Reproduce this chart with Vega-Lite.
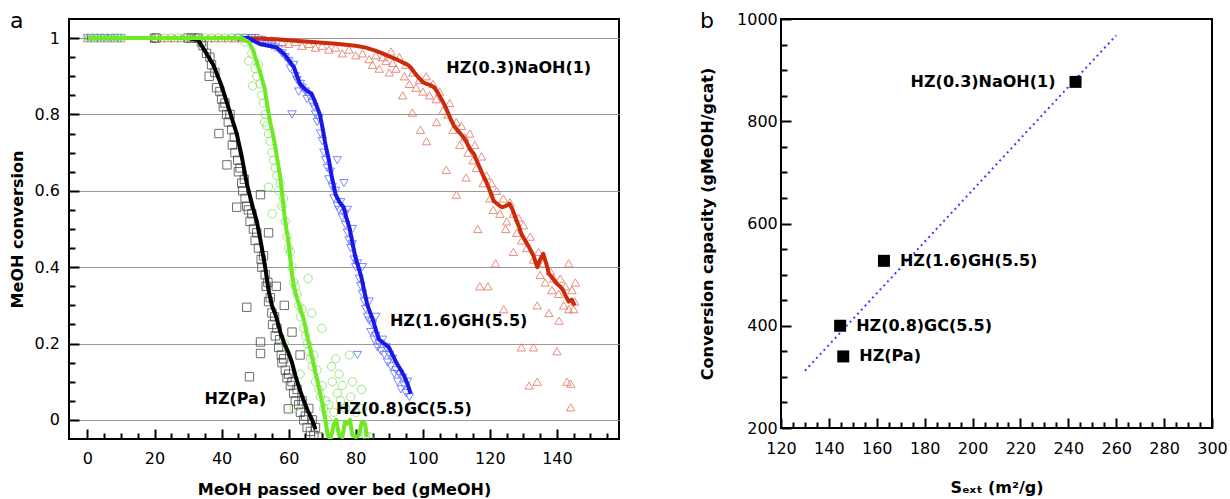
{
  "$schema": "https://vega.github.io/schema/vega-lite/v6.json",
  "padding": {"left": 8, "top": 9, "right": 5, "bottom": 0},
  "bounds": "flush",
  "spacing": 162,
  "config": {
    "font": "DejaVu Sans",
    "view": {"stroke": "#000", "strokeWidth": 2},
    "axis": {"domain": false, "labelFont": "DejaVu Sans", "labelFontSize": 16, "labelColor": "#000", "titleFont": "DejaVu Sans", "titleFontSize": 16, "titleFontWeight": "bold", "titleColor": "#000", "tickColor": "#000", "tickWidth": 2, "labelOverlap": false, "labelBound": false, "labelFlush": false},
    "title": {"anchor": "start", "frame": "bounds", "fontSize": 22, "fontWeight": "normal", "font": "DejaVu Sans", "baseline": "alphabetic", "color": "#000"}
  },
  "datasets": {
    "curves": [
      {"series": "NaOH", "x": 0, "y": 1}, {"series": "NaOH", "x": 10, "y": 1}, {"series": "NaOH", "x": 20, "y": 1}, {"series": "NaOH", "x": 30, "y": 1}, {"series": "NaOH", "x": 40, "y": 1}, {"series": "NaOH", "x": 50, "y": 0.999}, {"series": "NaOH", "x": 56.3, "y": 0.997}, {"series": "NaOH", "x": 62, "y": 0.993}, {"series": "NaOH", "x": 68.1, "y": 0.989}, {"series": "NaOH", "x": 74, "y": 0.985}, {"series": "NaOH", "x": 79.9, "y": 0.98}, {"series": "NaOH", "x": 83, "y": 0.975}, {"series": "NaOH", "x": 85.8, "y": 0.967}, {"series": "NaOH", "x": 88, "y": 0.96}, {"series": "NaOH", "x": 90.5, "y": 0.95}, {"series": "NaOH", "x": 92, "y": 0.945}, {"series": "NaOH", "x": 94, "y": 0.936}, {"series": "NaOH", "x": 95.5, "y": 0.93}, {"series": "NaOH", "x": 96.4, "y": 0.923}, {"series": "NaOH", "x": 97.5, "y": 0.91}, {"series": "NaOH", "x": 98.7, "y": 0.897}, {"series": "NaOH", "x": 100, "y": 0.885}, {"series": "NaOH", "x": 101.1, "y": 0.88}, {"series": "NaOH", "x": 102.3, "y": 0.877}, {"series": "NaOH", "x": 103.5, "y": 0.87}, {"series": "NaOH", "x": 104.6, "y": 0.855}, {"series": "NaOH", "x": 105.8, "y": 0.836}, {"series": "NaOH", "x": 107, "y": 0.815}, {"series": "NaOH", "x": 108.2, "y": 0.79}, {"series": "NaOH", "x": 109.3, "y": 0.77}, {"series": "NaOH", "x": 110.5, "y": 0.757}, {"series": "NaOH", "x": 111.7, "y": 0.745}, {"series": "NaOH", "x": 112.9, "y": 0.73}, {"series": "NaOH", "x": 114, "y": 0.71}, {"series": "NaOH", "x": 115.3, "y": 0.696}, {"series": "NaOH", "x": 116, "y": 0.68}, {"series": "NaOH", "x": 117, "y": 0.66}, {"series": "NaOH", "x": 118, "y": 0.64}, {"series": "NaOH", "x": 118.8, "y": 0.626}, {"series": "NaOH", "x": 120, "y": 0.6}, {"series": "NaOH", "x": 121.1, "y": 0.574}, {"series": "NaOH", "x": 122.3, "y": 0.565}, {"series": "NaOH", "x": 123.5, "y": 0.557}, {"series": "NaOH", "x": 124.7, "y": 0.56}, {"series": "NaOH", "x": 125.9, "y": 0.566}, {"series": "NaOH", "x": 126.8, "y": 0.55}, {"series": "NaOH", "x": 127.6, "y": 0.53}, {"series": "NaOH", "x": 128.5, "y": 0.51}, {"series": "NaOH", "x": 129.4, "y": 0.487}, {"series": "NaOH", "x": 130.5, "y": 0.47}, {"series": "NaOH", "x": 131.7, "y": 0.452}, {"series": "NaOH", "x": 133, "y": 0.43}, {"series": "NaOH", "x": 134.1, "y": 0.4}, {"series": "NaOH", "x": 135, "y": 0.42}, {"series": "NaOH", "x": 135.9, "y": 0.435}, {"series": "NaOH", "x": 136.8, "y": 0.41}, {"series": "NaOH", "x": 137.6, "y": 0.383}, {"series": "NaOH", "x": 138.8, "y": 0.37}, {"series": "NaOH", "x": 140, "y": 0.356}, {"series": "NaOH", "x": 140.9, "y": 0.35}, {"series": "NaOH", "x": 141.8, "y": 0.34}, {"series": "NaOH", "x": 142.6, "y": 0.325}, {"series": "NaOH", "x": 143.5, "y": 0.31}, {"series": "NaOH", "x": 144.4, "y": 0.315}, {"series": "NaOH", "x": 145.3, "y": 0.3},
      {"series": "GH", "x": 0, "y": 1}, {"series": "GH", "x": 10, "y": 1}, {"series": "GH", "x": 20, "y": 1}, {"series": "GH", "x": 30, "y": 1}, {"series": "GH", "x": 40, "y": 1}, {"series": "GH", "x": 48, "y": 1}, {"series": "GH", "x": 51.6, "y": 0.984}, {"series": "GH", "x": 54, "y": 0.98}, {"series": "GH", "x": 56.3, "y": 0.976}, {"series": "GH", "x": 58.7, "y": 0.958}, {"series": "GH", "x": 60.2, "y": 0.94}, {"series": "GH", "x": 61.6, "y": 0.923}, {"series": "GH", "x": 62.5, "y": 0.9}, {"series": "GH", "x": 63.4, "y": 0.88}, {"series": "GH", "x": 65, "y": 0.865}, {"series": "GH", "x": 66.9, "y": 0.853}, {"series": "GH", "x": 68, "y": 0.83}, {"series": "GH", "x": 69.3, "y": 0.8}, {"series": "GH", "x": 70.2, "y": 0.76}, {"series": "GH", "x": 71, "y": 0.72}, {"series": "GH", "x": 72, "y": 0.68}, {"series": "GH", "x": 72.8, "y": 0.64}, {"series": "GH", "x": 74, "y": 0.59}, {"series": "GH", "x": 75.2, "y": 0.57}, {"series": "GH", "x": 76.4, "y": 0.557}, {"series": "GH", "x": 77.2, "y": 0.53}, {"series": "GH", "x": 78.1, "y": 0.504}, {"series": "GH", "x": 79, "y": 0.465}, {"series": "GH", "x": 79.9, "y": 0.426}, {"series": "GH", "x": 80.8, "y": 0.4}, {"series": "GH", "x": 81.7, "y": 0.373}, {"series": "GH", "x": 82.6, "y": 0.335}, {"series": "GH", "x": 83.5, "y": 0.3}, {"series": "GH", "x": 85.2, "y": 0.26}, {"series": "GH", "x": 86.2, "y": 0.23}, {"series": "GH", "x": 87, "y": 0.21}, {"series": "GH", "x": 88.5, "y": 0.2}, {"series": "GH", "x": 89.9, "y": 0.19}, {"series": "GH", "x": 91, "y": 0.17}, {"series": "GH", "x": 92.3, "y": 0.147}, {"series": "GH", "x": 93.5, "y": 0.13}, {"series": "GH", "x": 94.7, "y": 0.11}, {"series": "GH", "x": 95.6, "y": 0.09}, {"series": "GH", "x": 96.4, "y": 0.068},
      {"series": "Pa", "x": 0, "y": 1}, {"series": "Pa", "x": 10, "y": 1}, {"series": "Pa", "x": 20, "y": 1}, {"series": "Pa", "x": 30, "y": 1}, {"series": "Pa", "x": 33, "y": 0.995}, {"series": "Pa", "x": 35, "y": 0.967}, {"series": "Pa", "x": 37.5, "y": 0.93}, {"series": "Pa", "x": 39.8, "y": 0.88}, {"series": "Pa", "x": 42, "y": 0.82}, {"series": "Pa", "x": 44.5, "y": 0.75}, {"series": "Pa", "x": 46, "y": 0.69}, {"series": "Pa", "x": 47.5, "y": 0.62}, {"series": "Pa", "x": 49.3, "y": 0.557}, {"series": "Pa", "x": 50.5, "y": 0.52}, {"series": "Pa", "x": 51.6, "y": 0.47}, {"series": "Pa", "x": 53, "y": 0.4}, {"series": "Pa", "x": 54, "y": 0.34}, {"series": "Pa", "x": 55, "y": 0.3}, {"series": "Pa", "x": 56.3, "y": 0.27}, {"series": "Pa", "x": 57.5, "y": 0.23}, {"series": "Pa", "x": 58.7, "y": 0.2}, {"series": "Pa", "x": 60, "y": 0.175}, {"series": "Pa", "x": 61, "y": 0.15}, {"series": "Pa", "x": 62.2, "y": 0.11}, {"series": "Pa", "x": 63.4, "y": 0.077}, {"series": "Pa", "x": 64.5, "y": 0.05}, {"series": "Pa", "x": 65.7, "y": 0.024}, {"series": "Pa", "x": 67, "y": 0}, {"series": "Pa", "x": 68, "y": -0.025},
      {"series": "GC", "x": 0, "y": 1}, {"series": "GC", "x": 10, "y": 1}, {"series": "GC", "x": 20, "y": 1}, {"series": "GC", "x": 30, "y": 1}, {"series": "GC", "x": 40, "y": 1}, {"series": "GC", "x": 46, "y": 1}, {"series": "GC", "x": 48.1, "y": 0.99}, {"series": "GC", "x": 49.3, "y": 0.97}, {"series": "GC", "x": 50.4, "y": 0.94}, {"series": "GC", "x": 51.5, "y": 0.91}, {"series": "GC", "x": 52.8, "y": 0.87}, {"series": "GC", "x": 53.7, "y": 0.82}, {"series": "GC", "x": 54.6, "y": 0.775}, {"series": "GC", "x": 55.5, "y": 0.74}, {"series": "GC", "x": 56.3, "y": 0.7}, {"series": "GC", "x": 57.5, "y": 0.635}, {"series": "GC", "x": 58.2, "y": 0.58}, {"series": "GC", "x": 58.7, "y": 0.54}, {"series": "GC", "x": 59.3, "y": 0.5}, {"series": "GC", "x": 59.9, "y": 0.47}, {"series": "GC", "x": 60.5, "y": 0.42}, {"series": "GC", "x": 61, "y": 0.38}, {"series": "GC", "x": 61.8, "y": 0.34}, {"series": "GC", "x": 62.8, "y": 0.31}, {"series": "GC", "x": 63.7, "y": 0.285}, {"series": "GC", "x": 64.6, "y": 0.26}, {"series": "GC", "x": 65.5, "y": 0.22}, {"series": "GC", "x": 66.3, "y": 0.19}, {"series": "GC", "x": 67.2, "y": 0.155}, {"series": "GC", "x": 68.1, "y": 0.12}, {"series": "GC", "x": 69, "y": 0.085}, {"series": "GC", "x": 69.9, "y": 0.05}, {"series": "GC", "x": 70.5, "y": 0.02}, {"series": "GC", "x": 71, "y": 0}, {"series": "GC", "x": 71.6, "y": -0.04}, {"series": "GC", "x": 72.5, "y": -0.05}, {"series": "GC", "x": 73.5, "y": -0.01}, {"series": "GC", "x": 74.2, "y": 0}, {"series": "GC", "x": 75, "y": -0.04}, {"series": "GC", "x": 76, "y": -0.045}, {"series": "GC", "x": 76.8, "y": -0.005}, {"series": "GC", "x": 77.5, "y": -0.01}, {"series": "GC", "x": 78.3, "y": 0}, {"series": "GC", "x": 79, "y": -0.04}, {"series": "GC", "x": 80, "y": -0.045}, {"series": "GC", "x": 81, "y": -0.04}, {"series": "GC", "x": 81.8, "y": -0.005}, {"series": "GC", "x": 82.8, "y": -0.01}, {"series": "GC", "x": 83.3, "y": -0.045}
    ],
    "points": [
      {"series": "NaOH", "x": 0, "y": 1}, {"series": "NaOH", "x": 2, "y": 1}, {"series": "NaOH", "x": 4, "y": 1}, {"series": "NaOH", "x": 6, "y": 1}, {"series": "NaOH", "x": 8, "y": 1}, {"series": "NaOH", "x": 10, "y": 1}, {"series": "NaOH", "x": 20, "y": 1}, {"series": "NaOH", "x": 22, "y": 1}, {"series": "NaOH", "x": 24, "y": 1}, {"series": "NaOH", "x": 26, "y": 1}, {"series": "NaOH", "x": 28, "y": 1}, {"series": "NaOH", "x": 30, "y": 1}, {"series": "NaOH", "x": 32, "y": 1}, {"series": "NaOH", "x": 34, "y": 1}, {"series": "NaOH", "x": 36, "y": 1}, {"series": "NaOH", "x": 38, "y": 1}, {"series": "NaOH", "x": 40, "y": 1}, {"series": "NaOH", "x": 42, "y": 1}, {"series": "NaOH", "x": 44, "y": 1}, {"series": "NaOH", "x": 46, "y": 1}, {"series": "NaOH", "x": 48, "y": 1}, {"series": "NaOH", "x": 50, "y": 1}, {"series": "NaOH", "x": 52, "y": 0.998},
      {"series": "NaOH", "x": 55, "y": 0.995}, {"series": "NaOH", "x": 58, "y": 0.99}, {"series": "NaOH", "x": 60, "y": 0.985}, {"series": "NaOH", "x": 62, "y": 0.99}, {"series": "NaOH", "x": 64, "y": 0.98}, {"series": "NaOH", "x": 66, "y": 0.985}, {"series": "NaOH", "x": 68, "y": 0.975}, {"series": "NaOH", "x": 70, "y": 0.98}, {"series": "NaOH", "x": 72, "y": 0.97}, {"series": "NaOH", "x": 74, "y": 0.975}, {"series": "NaOH", "x": 76, "y": 0.96}, {"series": "NaOH", "x": 78, "y": 0.97}, {"series": "NaOH", "x": 80, "y": 0.955}, {"series": "NaOH", "x": 82, "y": 0.96}, {"series": "NaOH", "x": 84, "y": 0.945}, {"series": "NaOH", "x": 85, "y": 0.93}, {"series": "NaOH", "x": 86, "y": 0.955}, {"series": "NaOH", "x": 87, "y": 0.92}, {"series": "NaOH", "x": 88, "y": 0.95}, {"series": "NaOH", "x": 89, "y": 0.94}, {"series": "NaOH", "x": 90, "y": 0.91}, {"series": "NaOH", "x": 90.5, "y": 0.965}, {"series": "NaOH", "x": 91, "y": 0.935}, {"series": "NaOH", "x": 92, "y": 0.92}, {"series": "NaOH", "x": 93, "y": 0.95}, {"series": "NaOH", "x": 94, "y": 0.85}, {"series": "NaOH", "x": 94.5, "y": 0.9}, {"series": "NaOH", "x": 95, "y": 0.93}, {"series": "NaOH", "x": 96, "y": 0.88}, {"series": "NaOH", "x": 96.9, "y": 0.805}, {"series": "NaOH", "x": 97, "y": 0.91}, {"series": "NaOH", "x": 98, "y": 0.87}, {"series": "NaOH", "x": 99, "y": 0.89}, {"series": "NaOH", "x": 99.3, "y": 0.76}, {"series": "NaOH", "x": 100, "y": 0.86}, {"series": "NaOH", "x": 101.1, "y": 0.73}, {"series": "NaOH", "x": 101, "y": 0.9}, {"series": "NaOH", "x": 102, "y": 0.85}, {"series": "NaOH", "x": 103, "y": 0.88}, {"series": "NaOH", "x": 104.1, "y": 0.78}, {"series": "NaOH", "x": 104, "y": 0.84}, {"series": "NaOH", "x": 105, "y": 0.86}, {"series": "NaOH", "x": 106, "y": 0.81}, {"series": "NaOH", "x": 107, "y": 0.655}, {"series": "NaOH", "x": 107.5, "y": 0.8}, {"series": "NaOH", "x": 108, "y": 0.83}, {"series": "NaOH", "x": 109, "y": 0.76}, {"series": "NaOH", "x": 110, "y": 0.59}, {"series": "NaOH", "x": 110, "y": 0.78}, {"series": "NaOH", "x": 111, "y": 0.72}, {"series": "NaOH", "x": 111.5, "y": 0.77}, {"series": "NaOH", "x": 112.9, "y": 0.635}, {"series": "NaOH", "x": 112.5, "y": 0.74}, {"series": "NaOH", "x": 113.5, "y": 0.7}, {"series": "NaOH", "x": 114, "y": 0.75}, {"series": "NaOH", "x": 115, "y": 0.68}, {"series": "NaOH", "x": 115.5, "y": 0.72}, {"series": "NaOH", "x": 116.4, "y": 0.5}, {"series": "NaOH", "x": 116, "y": 0.66}, {"series": "NaOH", "x": 117, "y": 0.35}, {"series": "NaOH", "x": 117.5, "y": 0.69}, {"series": "NaOH", "x": 118, "y": 0.62}, {"series": "NaOH", "x": 119, "y": 0.64}, {"series": "NaOH", "x": 119.4, "y": 0.35}, {"series": "NaOH", "x": 120, "y": 0.58}, {"series": "NaOH", "x": 120.5, "y": 0.62}, {"series": "NaOH", "x": 121.7, "y": 0.41}, {"series": "NaOH", "x": 121, "y": 0.55}, {"series": "NaOH", "x": 122, "y": 0.6}, {"series": "NaOH", "x": 123, "y": 0.54}, {"series": "NaOH", "x": 124.1, "y": 0.29}, {"series": "NaOH", "x": 124.7, "y": 0.5}, {"series": "NaOH", "x": 124, "y": 0.58}, {"series": "NaOH", "x": 125, "y": 0.52}, {"series": "NaOH", "x": 126, "y": 0.57}, {"series": "NaOH", "x": 127, "y": 0.44}, {"series": "NaOH", "x": 127, "y": 0.54}, {"series": "NaOH", "x": 128, "y": 0.49}, {"series": "NaOH", "x": 128.5, "y": 0.53}, {"series": "NaOH", "x": 129.4, "y": 0.19}, {"series": "NaOH", "x": 129.5, "y": 0.47}, {"series": "NaOH", "x": 130, "y": 0.51}, {"series": "NaOH", "x": 131, "y": 0.45}, {"series": "NaOH", "x": 131.7, "y": 0.09}, {"series": "NaOH", "x": 132, "y": 0.48}, {"series": "NaOH", "x": 133, "y": 0.19}, {"series": "NaOH", "x": 133, "y": 0.42}, {"series": "NaOH", "x": 134.1, "y": 0.3}, {"series": "NaOH", "x": 134.1, "y": 0.1}, {"series": "NaOH", "x": 134.5, "y": 0.44}, {"series": "NaOH", "x": 135, "y": 0.38}, {"series": "NaOH", "x": 136, "y": 0.41}, {"series": "NaOH", "x": 136.5, "y": 0.36}, {"series": "NaOH", "x": 137.6, "y": 0.28}, {"series": "NaOH", "x": 138, "y": 0.39}, {"series": "NaOH", "x": 138.5, "y": 0.34}, {"series": "NaOH", "x": 139, "y": 0.37}, {"series": "NaOH", "x": 140, "y": 0.18}, {"series": "NaOH", "x": 140.6, "y": 0.26}, {"series": "NaOH", "x": 140.5, "y": 0.33}, {"series": "NaOH", "x": 141, "y": 0.37}, {"series": "NaOH", "x": 142, "y": 0.3}, {"series": "NaOH", "x": 142.5, "y": 0.35}, {"series": "NaOH", "x": 143, "y": 0.1}, {"series": "NaOH", "x": 143.5, "y": 0.41}, {"series": "NaOH", "x": 143.5, "y": 0.29}, {"series": "NaOH", "x": 144.1, "y": 0.095}, {"series": "NaOH", "x": 144.1, "y": 0.033}, {"series": "NaOH", "x": 144.5, "y": 0.34}, {"series": "NaOH", "x": 145, "y": 0.29}, {"series": "NaOH", "x": 145.3, "y": 0.31}, {"series": "NaOH", "x": 145.5, "y": 0.36},
      {"series": "GH", "x": 0, "y": 1}, {"series": "GH", "x": 1, "y": 1}, {"series": "GH", "x": 2, "y": 1}, {"series": "GH", "x": 3, "y": 1}, {"series": "GH", "x": 4, "y": 1}, {"series": "GH", "x": 5, "y": 1}, {"series": "GH", "x": 6, "y": 1}, {"series": "GH", "x": 7, "y": 1}, {"series": "GH", "x": 8, "y": 1}, {"series": "GH", "x": 9, "y": 1}, {"series": "GH", "x": 10, "y": 1}, {"series": "GH", "x": 45, "y": 1}, {"series": "GH", "x": 47, "y": 1}, {"series": "GH", "x": 49, "y": 1}, {"series": "GH", "x": 50, "y": 1}, {"series": "GH", "x": 52, "y": 0.995},
      {"series": "GH", "x": 53, "y": 0.99}, {"series": "GH", "x": 54, "y": 0.985}, {"series": "GH", "x": 55, "y": 0.98}, {"series": "GH", "x": 56, "y": 0.975}, {"series": "GH", "x": 57, "y": 0.97}, {"series": "GH", "x": 58, "y": 0.96}, {"series": "GH", "x": 59, "y": 0.95}, {"series": "GH", "x": 60, "y": 0.94}, {"series": "GH", "x": 60.5, "y": 0.92}, {"series": "GH", "x": 61, "y": 0.8}, {"series": "GH", "x": 61.5, "y": 0.93}, {"series": "GH", "x": 62, "y": 0.9}, {"series": "GH", "x": 62.5, "y": 0.89}, {"series": "GH", "x": 63, "y": 0.86}, {"series": "GH", "x": 63.5, "y": 0.88}, {"series": "GH", "x": 64, "y": 0.87}, {"series": "GH", "x": 65, "y": 0.86}, {"series": "GH", "x": 65.5, "y": 0.84}, {"series": "GH", "x": 66, "y": 0.85}, {"series": "GH", "x": 67, "y": 0.83}, {"series": "GH", "x": 67.5, "y": 0.82}, {"series": "GH", "x": 68, "y": 0.8}, {"series": "GH", "x": 68.5, "y": 0.78}, {"series": "GH", "x": 69, "y": 0.79}, {"series": "GH", "x": 69.5, "y": 0.75}, {"series": "GH", "x": 70, "y": 0.73}, {"series": "GH", "x": 70.5, "y": 0.7}, {"series": "GH", "x": 71, "y": 0.68}, {"series": "GH", "x": 71.5, "y": 0.66}, {"series": "GH", "x": 72, "y": 0.63}, {"series": "GH", "x": 72.5, "y": 0.65}, {"series": "GH", "x": 73, "y": 0.61}, {"series": "GH", "x": 73.5, "y": 0.58}, {"series": "GH", "x": 74, "y": 0.6}, {"series": "GH", "x": 74.5, "y": 0.68}, {"series": "GH", "x": 74.5, "y": 0.56}, {"series": "GH", "x": 75, "y": 0.55}, {"series": "GH", "x": 75.5, "y": 0.57}, {"series": "GH", "x": 76, "y": 0.53}, {"series": "GH", "x": 76.5, "y": 0.62}, {"series": "GH", "x": 76.5, "y": 0.54}, {"series": "GH", "x": 77, "y": 0.51}, {"series": "GH", "x": 77.5, "y": 0.55}, {"series": "GH", "x": 77.5, "y": 0.49}, {"series": "GH", "x": 78, "y": 0.47}, {"series": "GH", "x": 78.5, "y": 0.45}, {"series": "GH", "x": 79, "y": 0.5}, {"series": "GH", "x": 79, "y": 0.46}, {"series": "GH", "x": 79.5, "y": 0.42}, {"series": "GH", "x": 80, "y": 0.4}, {"series": "GH", "x": 80.5, "y": 0.17}, {"series": "GH", "x": 80.5, "y": 0.41}, {"series": "GH", "x": 81, "y": 0.37}, {"series": "GH", "x": 81.5, "y": 0.35}, {"series": "GH", "x": 82, "y": 0.4}, {"series": "GH", "x": 82, "y": 0.33}, {"series": "GH", "x": 82.5, "y": 0.31}, {"series": "GH", "x": 83, "y": 0.29}, {"series": "GH", "x": 83.5, "y": 0.27}, {"series": "GH", "x": 84, "y": 0.31}, {"series": "GH", "x": 84, "y": 0.26}, {"series": "GH", "x": 84.5, "y": 0.23}, {"series": "GH", "x": 85, "y": 0.25}, {"series": "GH", "x": 85.5, "y": 0.21}, {"series": "GH", "x": 86, "y": 0.27}, {"series": "GH", "x": 86, "y": 0.22}, {"series": "GH", "x": 86.5, "y": 0.19}, {"series": "GH", "x": 87, "y": 0.2}, {"series": "GH", "x": 87.5, "y": 0.18}, {"series": "GH", "x": 88, "y": 0.21}, {"series": "GH", "x": 88.5, "y": 0.17}, {"series": "GH", "x": 89, "y": 0.19}, {"series": "GH", "x": 89.5, "y": 0.15}, {"series": "GH", "x": 90, "y": 0.17}, {"series": "GH", "x": 90.5, "y": 0.14}, {"series": "GH", "x": 91, "y": 0.16}, {"series": "GH", "x": 91.5, "y": 0.12}, {"series": "GH", "x": 92, "y": 0.13}, {"series": "GH", "x": 92.5, "y": 0.1}, {"series": "GH", "x": 93, "y": 0.12}, {"series": "GH", "x": 93.5, "y": 0.08}, {"series": "GH", "x": 94, "y": 0.11}, {"series": "GH", "x": 94.5, "y": 0.09}, {"series": "GH", "x": 95, "y": 0.07}, {"series": "GH", "x": 95.5, "y": 0.1}, {"series": "GH", "x": 96, "y": 0.06},
      {"series": "Pa", "x": 20, "y": 1}, {"series": "Pa", "x": 20.5, "y": 1}, {"series": "Pa", "x": 30, "y": 1}, {"series": "Pa", "x": 31, "y": 1}, {"series": "Pa", "x": 32, "y": 1}, {"series": "Pa", "x": 33, "y": 1}, {"series": "Pa", "x": 34, "y": 0.99}, {"series": "Pa", "x": 34.5, "y": 0.98}, {"series": "Pa", "x": 35.5, "y": 0.96}, {"series": "Pa", "x": 36.3, "y": 0.9}, {"series": "Pa", "x": 36.5, "y": 0.95}, {"series": "Pa", "x": 37, "y": 0.93}, {"series": "Pa", "x": 38, "y": 0.91}, {"series": "Pa", "x": 38.5, "y": 0.87}, {"series": "Pa", "x": 39.2, "y": 0.75}, {"series": "Pa", "x": 39.5, "y": 0.86}, {"series": "Pa", "x": 40, "y": 0.84}, {"series": "Pa", "x": 40.5, "y": 0.82}, {"series": "Pa", "x": 41, "y": 0.83}, {"series": "Pa", "x": 41.6, "y": 0.668}, {"series": "Pa", "x": 41.5, "y": 0.8}, {"series": "Pa", "x": 42, "y": 0.78}, {"series": "Pa", "x": 42.5, "y": 0.8}, {"series": "Pa", "x": 43, "y": 0.76}, {"series": "Pa", "x": 43.2, "y": 0.72}, {"series": "Pa", "x": 43.8, "y": 0.74}, {"series": "Pa", "x": 44, "y": 0.7}, {"series": "Pa", "x": 44.5, "y": 0.557}, {"series": "Pa", "x": 44.8, "y": 0.68}, {"series": "Pa", "x": 45, "y": 0.65}, {"series": "Pa", "x": 45.5, "y": 0.66}, {"series": "Pa", "x": 46, "y": 0.62}, {"series": "Pa", "x": 46.3, "y": 0.6}, {"series": "Pa", "x": 46.8, "y": 0.63}, {"series": "Pa", "x": 47, "y": 0.58}, {"series": "Pa", "x": 47.5, "y": 0.295}, {"series": "Pa", "x": 47.5, "y": 0.56}, {"series": "Pa", "x": 48, "y": 0.55}, {"series": "Pa", "x": 48.3, "y": 0.113}, {"series": "Pa", "x": 48.5, "y": 0.52}, {"series": "Pa", "x": 49, "y": 0.54}, {"series": "Pa", "x": 49.5, "y": 0.5}, {"series": "Pa", "x": 50, "y": 0.47}, {"series": "Pa", "x": 50.5, "y": 0.49}, {"series": "Pa", "x": 51, "y": 0.45}, {"series": "Pa", "x": 51.6, "y": 0.59}, {"series": "Pa", "x": 51.6, "y": 0.204}, {"series": "Pa", "x": 51.6, "y": 0.174}, {"series": "Pa", "x": 51.8, "y": 0.42}, {"series": "Pa", "x": 52, "y": 0.4}, {"series": "Pa", "x": 52.5, "y": 0.43}, {"series": "Pa", "x": 53, "y": 0.38}, {"series": "Pa", "x": 53.3, "y": 0.35}, {"series": "Pa", "x": 53.8, "y": 0.36}, {"series": "Pa", "x": 54, "y": 0.49}, {"series": "Pa", "x": 54, "y": 0.31}, {"series": "Pa", "x": 54.5, "y": 0.32}, {"series": "Pa", "x": 55, "y": 0.28}, {"series": "Pa", "x": 55.2, "y": 0.25}, {"series": "Pa", "x": 55.8, "y": 0.27}, {"series": "Pa", "x": 56, "y": 0.22}, {"series": "Pa", "x": 56.3, "y": 0.35}, {"series": "Pa", "x": 56.5, "y": 0.24}, {"series": "Pa", "x": 57, "y": 0.19}, {"series": "Pa", "x": 57.3, "y": 0.21}, {"series": "Pa", "x": 57.8, "y": 0.17}, {"series": "Pa", "x": 58, "y": 0.15}, {"series": "Pa", "x": 58.5, "y": 0.16}, {"series": "Pa", "x": 58.7, "y": 0.3}, {"series": "Pa", "x": 59, "y": 0.13}, {"series": "Pa", "x": 59.5, "y": 0.11}, {"series": "Pa", "x": 59.9, "y": 0.029}, {"series": "Pa", "x": 60, "y": 0.12}, {"series": "Pa", "x": 60.5, "y": 0.09}, {"series": "Pa", "x": 61, "y": 0.23}, {"series": "Pa", "x": 61, "y": 0.1}, {"series": "Pa", "x": 61.5, "y": 0.07}, {"series": "Pa", "x": 62, "y": 0.05}, {"series": "Pa", "x": 62.5, "y": 0.08}, {"series": "Pa", "x": 63, "y": 0.04}, {"series": "Pa", "x": 63.4, "y": 0.17}, {"series": "Pa", "x": 63.5, "y": 0.02}, {"series": "Pa", "x": 64, "y": 0.05}, {"series": "Pa", "x": 64.5, "y": 0}, {"series": "Pa", "x": 65, "y": 0.01}, {"series": "Pa", "x": 65.5, "y": -0.02}, {"series": "Pa", "x": 66, "y": 0.03}, {"series": "Pa", "x": 66.5, "y": -0.03}, {"series": "Pa", "x": 67, "y": 0}, {"series": "Pa", "x": 67.5, "y": -0.04}, {"series": "Pa", "x": 68, "y": -0.02}, {"series": "Pa", "x": 69, "y": -0.045},
      {"series": "GC", "x": 0, "y": 1}, {"series": "GC", "x": 1.5, "y": 1}, {"series": "GC", "x": 3, "y": 1}, {"series": "GC", "x": 4.5, "y": 1}, {"series": "GC", "x": 6, "y": 1}, {"series": "GC", "x": 7.5, "y": 1}, {"series": "GC", "x": 9, "y": 1}, {"series": "GC", "x": 10, "y": 1}, {"series": "GC", "x": 21, "y": 1}, {"series": "GC", "x": 23, "y": 1}, {"series": "GC", "x": 25, "y": 1}, {"series": "GC", "x": 27, "y": 1}, {"series": "GC", "x": 29, "y": 1}, {"series": "GC", "x": 31, "y": 1}, {"series": "GC", "x": 33, "y": 1}, {"series": "GC", "x": 35, "y": 1}, {"series": "GC", "x": 37, "y": 1}, {"series": "GC", "x": 39, "y": 1}, {"series": "GC", "x": 41, "y": 1}, {"series": "GC", "x": 43, "y": 1}, {"series": "GC", "x": 45, "y": 1}, {"series": "GC", "x": 46.5, "y": 1},
      {"series": "GC", "x": 47, "y": 0.99}, {"series": "GC", "x": 48.1, "y": 0.94}, {"series": "GC", "x": 49, "y": 0.96}, {"series": "GC", "x": 49.3, "y": 0.875}, {"series": "GC", "x": 50, "y": 0.92}, {"series": "GC", "x": 50.5, "y": 0.9}, {"series": "GC", "x": 51, "y": 0.93}, {"series": "GC", "x": 51.5, "y": 0.88}, {"series": "GC", "x": 52, "y": 0.85}, {"series": "GC", "x": 52.5, "y": 0.83}, {"series": "GC", "x": 52.8, "y": 0.78}, {"series": "GC", "x": 53, "y": 0.8}, {"series": "GC", "x": 53.5, "y": 0.77}, {"series": "GC", "x": 54, "y": 0.61}, {"series": "GC", "x": 54, "y": 0.75}, {"series": "GC", "x": 54.5, "y": 0.73}, {"series": "GC", "x": 55, "y": 0.7}, {"series": "GC", "x": 55.1, "y": 0.54}, {"series": "GC", "x": 55.5, "y": 0.68}, {"series": "GC", "x": 56, "y": 0.66}, {"series": "GC", "x": 56.5, "y": 0.64}, {"series": "GC", "x": 57, "y": 0.6}, {"series": "GC", "x": 57.5, "y": 0.62}, {"series": "GC", "x": 58, "y": 0.56}, {"series": "GC", "x": 58.5, "y": 0.58}, {"series": "GC", "x": 58.7, "y": 0.2}, {"series": "GC", "x": 59, "y": 0.52}, {"series": "GC", "x": 59.5, "y": 0.48}, {"series": "GC", "x": 60, "y": 0.45}, {"series": "GC", "x": 60.5, "y": 0.44}, {"series": "GC", "x": 61, "y": 0.4}, {"series": "GC", "x": 61.5, "y": 0.36}, {"series": "GC", "x": 61.6, "y": 0.03}, {"series": "GC", "x": 62, "y": 0.35}, {"series": "GC", "x": 62.5, "y": 0.33}, {"series": "GC", "x": 63, "y": 0.3}, {"series": "GC", "x": 63.4, "y": 0.12}, {"series": "GC", "x": 63.5, "y": 0.27}, {"series": "GC", "x": 64, "y": 0.29}, {"series": "GC", "x": 64.5, "y": 0.24}, {"series": "GC", "x": 65, "y": 0.22}, {"series": "GC", "x": 65.5, "y": 0.2}, {"series": "GC", "x": 65.8, "y": 0.37}, {"series": "GC", "x": 66, "y": 0.18}, {"series": "GC", "x": 66.5, "y": 0.16}, {"series": "GC", "x": 66.9, "y": 0.28}, {"series": "GC", "x": 67, "y": 0.14}, {"series": "GC", "x": 67.5, "y": 0.17}, {"series": "GC", "x": 68, "y": 0.1}, {"series": "GC", "x": 68.5, "y": 0.13}, {"series": "GC", "x": 69, "y": 0.08}, {"series": "GC", "x": 69.5, "y": 0.06}, {"series": "GC", "x": 69.9, "y": 0.24}, {"series": "GC", "x": 70, "y": 0.09}, {"series": "GC", "x": 70.5, "y": 0.03}, {"series": "GC", "x": 71, "y": 0.05}, {"series": "GC", "x": 71.5, "y": 0}, {"series": "GC", "x": 72, "y": 0.04}, {"series": "GC", "x": 72.8, "y": 0.14}, {"series": "GC", "x": 73, "y": 0.1}, {"series": "GC", "x": 73.5, "y": 0.02}, {"series": "GC", "x": 74, "y": 0.16}, {"series": "GC", "x": 74.5, "y": 0.07}, {"series": "GC", "x": 75, "y": 0.12}, {"series": "GC", "x": 75.5, "y": 0.05}, {"series": "GC", "x": 76, "y": 0.09}, {"series": "GC", "x": 77, "y": 0.03}, {"series": "GC", "x": 78.1, "y": 0.17}, {"series": "GC", "x": 78.5, "y": 0.06}, {"series": "GC", "x": 79, "y": 0.1}, {"series": "GC", "x": 80, "y": 0.02}, {"series": "GC", "x": 81.7, "y": 0.08}, {"series": "GC", "x": 82, "y": 0.03}, {"series": "GC", "x": 83, "y": -0.04}, {"series": "GC", "x": 84, "y": -0.045}
    ],
    "annotations": [
      {"label": "HZ(0.3)NaOH(1)", "x": 107, "y": 0.921},
      {"label": "HZ(1.6)GH(5.5)", "x": 90.2, "y": 0.26},
      {"label": "HZ(Pa)", "x": 34.9, "y": 0.055},
      {"label": "HZ(0.8)GC(5.5)", "x": 74.1, "y": 0.029}
    ],
    "capacity": [
      {"catalyst": "HZ(0.3)NaOH(1)", "sext": 243, "capacity": 877},
      {"catalyst": "HZ(1.6)GH(5.5)", "sext": 163, "capacity": 527},
      {"catalyst": "HZ(0.8)GC(5.5)", "sext": 144.7, "capacity": 400},
      {"catalyst": "HZ(Pa)", "sext": 146, "capacity": 340}
    ],
    "fit": [
      {"sext": 130, "capacity": 312},
      {"sext": 260, "capacity": 968}
    ]
  },
  "hconcat": [
    {
      "width": 550,
      "height": 420,
      "title": {"text": "a", "offset": -14.4},
      "encoding": {
        "x": {"field": "x", "type": "quantitative", "scale": {"domain": [-5.5, 158.5], "nice": false, "zero": false},
          "axis": {"title": "MeOH passed over bed (gMeOH)", "values": [0,5,10,15,20,25,30,35,40,45,50,55,60,65,70,75,80,85,90,95,100,105,110,115,120,125,130,135,140,145,150,155],
            "labelExpr": "datum.value % 20 === 0 ? datum.label : ''",
            "tickSize": {"condition": {"test": "datum.value % 20 === 0", "value": -10}, "value": -6},
            "labelPadding": 21.8, "titlePadding": 10.7, "grid": false}},
        "y": {"field": "y", "type": "quantitative", "scale": {"domain": [-0.05, 1.05], "nice": false, "zero": false},
          "axis": {"title": "MeOH conversion", "values": [0,0.05,0.1,0.15,0.2,0.25,0.3,0.35,0.4,0.45,0.5,0.55,0.6,0.65,0.7,0.75,0.8,0.85,0.9,0.95,1], "format": "~g",
            "labelExpr": "round(datum.value*100) % 20 === 0 ? datum.label : ''",
            "tickSize": {"condition": {"test": "round(datum.value*100) % 20 === 0", "value": -10}, "value": -6},
            "grid": true, "gridColor": "#9a9a9a", "gridWidth": 1,
            "gridOpacity": {"condition": {"test": "round(datum.value*100) % 20 === 0", "value": 1}, "value": 0},
            "labelPadding": 19.6, "titlePadding": 8}}
      },
      "layer": [
        {
          "data": {"name": "points"},
          "mark": {"type": "point", "filled": false, "strokeWidth": 1, "size": 70, "opacity": 0.8, "clip": true},
          "encoding": {
            "stroke": {"field": "series", "type": "nominal", "legend": null, "scale": {"domain": ["NaOH", "GH", "Pa", "GC"], "range": ["#e2735f", "#5a6bff", "#4a4a4a", "#84e460"]}},
            "shape": {"field": "series", "type": "nominal", "legend": null, "scale": {"domain": ["NaOH", "GH", "Pa", "GC"], "range": ["triangle-up", "triangle-down", "square", "circle"]}}
          }
        },
        {
          "data": {"name": "curves"},
          "mark": {"type": "line", "strokeWidth": 4, "clip": true, "strokeJoin": "round"},
          "encoding": {
            "color": {"field": "series", "type": "nominal", "legend": null, "sort": null, "scale": {"domain": ["NaOH", "GH", "Pa", "GC"], "range": ["#cc2a0a", "#1818e8", "#000000", "#6fe826"]}}
          }
        },
        {
          "data": {"name": "annotations"},
          "mark": {"type": "text", "align": "left", "baseline": "middle", "fontWeight": "bold", "fontSize": 16, "font": "DejaVu Sans", "color": "#000"},
          "encoding": {"text": {"field": "label"}}
        }
      ]
    },
    {
      "width": 431,
      "height": 409,
      "title": {"text": "b", "offset": -22},
      "encoding": {
        "x": {"field": "sext", "type": "quantitative", "scale": {"domain": [120, 300], "nice": false, "zero": false},
          "axis": {"title": "Sₑₓₜ (m²/g)", "values": [120,125,130,135,140,145,150,155,160,165,170,175,180,185,190,195,200,205,210,215,220,225,230,235,240,245,250,255,260,265,270,275,280,285,290,295,300],
            "labelExpr": "datum.value % 20 === 0 ? datum.label : ''",
            "tickSize": {"condition": {"test": "datum.value % 20 === 0", "value": -10}, "value": -6},
            "labelPadding": 22, "titlePadding": 19, "grid": false}},
        "y": {"field": "capacity", "type": "quantitative", "scale": {"domain": [200, 1000], "nice": false, "zero": false},
          "axis": {"title": "Conversion capacity (gMeOH/gcat)", "values": [200,250,300,350,400,450,500,550,600,650,700,750,800,850,900,950,1000], "format": "d",
            "labelExpr": "datum.value % 200 === 0 ? datum.label : ''",
            "tickSize": {"condition": {"test": "datum.value % 200 === 0", "value": -10}, "value": -6},
            "labelPadding": 13.7, "titlePadding": 20.6, "grid": false}}
      },
      "layer": [
        {
          "data": {"name": "fit"},
          "mark": {"type": "line", "strokeDash": [2, 3.5], "strokeWidth": 2, "color": "#3c3cff"},
          "encoding": {}
        },
        {
          "data": {"name": "capacity"},
          "mark": {"type": "square", "filled": true, "color": "#000", "size": 144, "opacity": 1},
          "encoding": {}
        },
        {
          "data": {"name": "capacity"},
          "transform": [{"filter": "datum.catalyst === 'HZ(0.3)NaOH(1)'"}],
          "mark": {"type": "text", "align": "right", "baseline": "middle", "dx": -20, "fontWeight": "bold", "fontSize": 16, "font": "DejaVu Sans", "color": "#000"},
          "encoding": {"text": {"field": "catalyst"}}
        },
        {
          "data": {"name": "capacity"},
          "transform": [{"filter": "datum.catalyst !== 'HZ(0.3)NaOH(1)'"}],
          "mark": {"type": "text", "align": "left", "baseline": "middle", "dx": 16, "fontWeight": "bold", "fontSize": 16, "font": "DejaVu Sans", "color": "#000"},
          "encoding": {"text": {"field": "catalyst"}}
        }
      ]
    }
  ]
}
